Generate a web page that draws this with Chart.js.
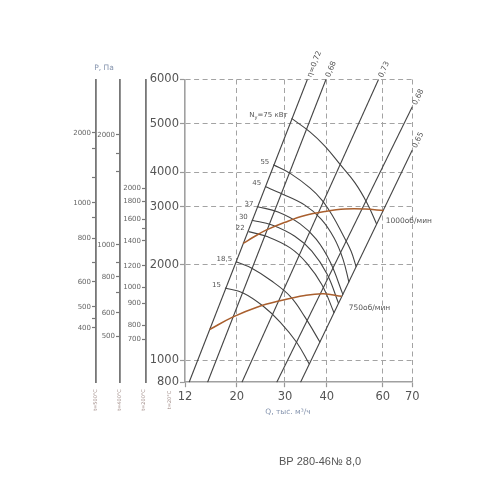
<!DOCTYPE html>
<html>
<head>
<meta charset="utf-8">
<script src="https://cdn.jsdelivr.net/npm/chart.js@4"></script>
<style>
  html, body { margin: 0; background: #fff; }
  canvas { display: block; }
</style>
</head>
<body>
<canvas id="chart" width="500" height="500"></canvas>
<script>
// main axes (Q, thousand m3/h and P, Pa at t=20°C)
const qTicks = [12, 20, 30, 40, 60, 70];
const pTicks = [800, 1000, 2000, 3000, 4000, 5000, 6000];

// pressure scales for hot gas (first and last value = ends of the scale)
const p500Marks = [224, 400, 450, 500, 600, 700, 800, 900, 1000, 1200, 1600, 2000, 3390];
const p500Labels = [400, 500, 600, 800, 1000, 2000];
const p400Marks = [348, 500, 600, 700, 800, 900, 1000, 1600, 1800, 2000, 2840];
const p400Labels = [500, 600, 800, 1000, 2000];
const p200Marks = [460, 700, 800, 900, 1000, 1200, 1400, 1500, 1600, 1800, 2000, 4500];
const p200Labels = [700, 800, 900, 1000, 1200, 1400, 1600, 1800, 2000];

// efficiency rays [Q, P]
const eta072 = [[12.5, 800], [35.0, 6000]];
const eta068 = [[15.0, 800], [39.8, 6000]];
const eta073 = [[20.9, 800], [58.2, 6000]];
const eta068b = [[28.0, 800], [70, 5360]];
const eta065 = [[33.4, 800], [70, 4430]];
const etaLabels = ['η=0,72', '0,68', '0,73', '0,68', '0,65'];

// motor power curves [Q, P]
const n15 = [[17.8, 1690], [21.1, 1630], [25.0, 1480], [28.8, 1320], [32.5, 1140], [35.5, 960]];
const n18 = [[19.9, 2040], [22.7, 1950], [26.5, 1790], [31.1, 1590], [34.4, 1370], [38.2, 1140]];
const n22 = [[22.1, 2520], [26.0, 2430], [31.1, 2250], [34.9, 2020], [38.7, 1730], [42.2, 1410]];
const n30 = [[22.7, 2730], [26.9, 2640], [32.1, 2440], [36.1, 2200], [40.1, 1870], [43.6, 1510]];
const n37 = [[23.8, 3000], [28.3, 2890], [33.3, 2660], [37.2, 2390], [41.0, 2040], [45.0, 1610]];
const n45 = [[25.4, 3550], [28.8, 3360], [34.4, 3040], [38.5, 2750], [42.2, 2410], [45.0, 2080], [47.0, 1760]];
const n55 = [[27.2, 4140], [31.1, 3960], [35.7, 3500], [38.7, 3170], [41.6, 2830], [45.0, 2460], [47.7, 2200], [49.5, 1970]];
const n75 = [[31.4, 5110], [35.7, 4810], [39.5, 4510], [44.0, 4150], [49.1, 3660], [53.6, 3090], [57.4, 2660]];
const powerLabels = ['15', '18,5', '22', '30', '37', '45', '55', 'Nу=75 кВт'];

// fan curves at 1000 and 750 rpm [Q, P]
const n1000 = [[21.1, 2320], [23.3, 2440], [25.7, 2550], [30, 2690], [34.4, 2820], [39.5, 2900], [45.7, 2950], [52.8, 2950], [60.3, 2920]];
const n750 = [[15.3, 1250], [19.3, 1370], [23.7, 1470], [28.8, 1540], [34.4, 1600], [39.1, 1620], [44.6, 1590]];
const rpmLabels = ['1000об/мин', '750об/мин'];

const tempLabels = ['t=500°C', 't=400°C', 't=200°C', 't=20°C'];

// where each mark sits along its axis (share of the axis length), the nomogram is not evenly spaced
const qAt = [0, 0.2275, 0.4399, 0.6234, 0.8698, 1];
const pAt = [0, 0.0723, 0.3882, 0.5798, 0.6938, 0.8540, 1];
const p500At = [0, 0.1800, 0.2088, 0.2494, 0.3320, 0.3948, 0.4754, 0.5425, 0.5930, 0.6746, 0.7737, 0.8242, 1];
const p400At = [0, 0.1526, 0.2296, 0.2947, 0.3485, 0.3938, 0.4542, 0.6954, 0.7562, 0.8167, 1];
const p200At = [0, 0.1417, 0.1867, 0.2607, 0.3135, 0.3839, 0.4675, 0.5094, 0.5382, 0.5986, 0.6406, 1];

const scaleMarks = {
  x: { values: qTicks, at: qAt, ticks: qTicks },
  y: { values: pTicks, at: pAt, ticks: pTicks },
  yA: { values: p500Marks, at: p500At, ticks: p500Marks.slice(1, -1) },
  yB: { values: p400Marks, at: p400At, ticks: p400Marks.slice(1, -1) },
  yC: { values: p200Marks, at: p200At, ticks: p200Marks.slice(1, -1) }
};

// log scale stretched piece by piece between the printed marks
class NomoScale extends Chart.Scale {
  static id = 'nomo';
  static defaults = {};

  determineDataLimits() {
    const v = scaleMarks[this.id].values;
    this.min = v[0];
    this.max = v[v.length - 1];
  }

  buildTicks() {
    return scaleMarks[this.id].ticks.map(value => ({ value }));
  }

  getPixelForValue(value) {
    const { values: v, at: f } = scaleMarks[this.id];
    let i = 1;
    while (i < v.length - 1 && value > v[i]) i++;
    const t = Math.log(value / v[i - 1]) / Math.log(v[i] / v[i - 1]);
    return this.getPixelForDecimal(f[i - 1] + t * (f[i] - f[i - 1]));
  }

  getValueForPixel(pixel) {
    const { values: v, at: f } = scaleMarks[this.id];
    const d = this.getDecimalForPixel(pixel);
    let i = 1;
    while (i < f.length - 1 && d > f[i]) i++;
    const t = (d - f[i - 1]) / (f[i] - f[i - 1]);
    return v[i - 1] * Math.pow(v[i] / v[i - 1], t);
  }
}
Chart.register(NomoScale);

const FONT = "'DejaVu Sans', sans-serif";
const asXY = pts => pts.map(([q, p]) => ({ x: q, y: p }));

const etaCurves = [eta072, eta068, eta073, eta068b, eta065];
const powerCurves = [n15, n18, n22, n30, n37, n45, n55, n75];
const rpmCurves = [n1000, n750];

const datasets = [
  ...rpmCurves.map(c => ({ data: asXY(c), borderColor: '#a95f2e', borderWidth: 1.5, tension: 0.4 })),
  ...powerCurves.map(c => ({ data: asXY(c), borderColor: '#444', borderWidth: 1.1, tension: 0.4 })),
  ...etaCurves.map(c => ({ data: asXY(c), borderColor: '#444', borderWidth: 1.1 }))
];

const mainGrid = {
  color: c => (c.tick && (c.tick.value === 12 || c.tick.value === 800)) ? 'rgba(0,0,0,0)' : '#a3a3a3',
  lineWidth: 1,
  tickLength: 5,
  tickColor: '#999',
  tickWidth: 1.2
};
const mainBorder = { color: '#a0a0a0', width: 1.6, dash: [5, 3.5] };

function auxAxis(weight, width, labels) {
  return {
    type: 'nomo',
    axis: 'y',
    position: 'left',
    weight: weight,
    grid: { drawOnChartArea: false, tickLength: 4, tickColor: '#777', tickWidth: 1.2 },
    border: { color: '#777', width: 1.8 },
    ticks: {
      font: { family: FONT, size: 7 },
      color: '#666',
      padding: 1,
      autoSkip: false,
      callback: v => labels.includes(v) ? String(v) : ''
    },
    afterFit: s => { s.width = width; }
  };
}

const notes = {
  id: 'notes',
  afterDatasetsDraw(chart) {
    const { ctx, scales } = chart;
    const at = ([q, p]) => [scales.x.getPixelForValue(q), scales.y.getPixelForValue(p)];
    ctx.save();
    ctx.fillStyle = '#555';
    ctx.textBaseline = 'middle';

    // efficiency labels continue the rays
    ctx.font = `7.5px ${FONT}`;
    ctx.textAlign = 'left';
    etaCurves.forEach((c, i) => {
      const [x1, y1] = at(c[0]);
      const [x2, y2] = at(c[c.length - 1]);
      ctx.save();
      ctx.translate(x2, y2);
      ctx.rotate(Math.atan2(y2 - y1, x2 - x1));
      ctx.fillText(etaLabels[i], 3, 1);
      ctx.restore();
    });

    // power labels at the start of each curve
    ctx.font = `7px ${FONT}`;
    ctx.textAlign = 'right';
    powerCurves.forEach((c, i) => {
      const [sx, sy] = at(c[0]);
      const label = powerLabels[i];
      if (label.startsWith('Nу')) {
        const tail = label.slice(2);
        let right = sx - 4;
        ctx.fillText(tail, right, sy - 3);
        right -= ctx.measureText(tail).width;
        ctx.font = `5px ${FONT}`;
        ctx.fillText('у', right, sy - 1);
        right -= ctx.measureText('у').width;
        ctx.font = `7px ${FONT}`;
        ctx.fillText('N', right, sy - 3);
      } else {
        ctx.fillText(label, sx - 4, sy - 3);
      }
    });

    // rpm labels
    ctx.textAlign = 'left';
    ctx.font = `7.5px ${FONT}`;
    const [ax, ay] = at(n1000[n1000.length - 1]);
    ctx.fillText(rpmLabels[0], ax + 2, ay + 10);
    const [bx, by] = at(n750[n750.length - 1]);
    ctx.fillText(rpmLabels[1], bx + 7, by + 12);

    // axis captions
    ctx.fillStyle = '#8493ad';
    ctx.textAlign = 'center';
    ctx.font = `7.5px ${FONT}`;
    ctx.fillText('P, Па', scales.yA.right + 8, 68.5);
    ctx.fillText('Q, тыс. м³/ч', 288, 412);

    // temperature of each pressure scale
    ctx.fillStyle = '#9b8580';
    ctx.font = `5px ${FONT}`;
    const tx = [scales.yA.right, scales.yB.right, scales.yC.right - 2, scales.y.left + 24];
    tempLabels.forEach((t, i) => {
      ctx.save();
      ctx.translate(tx[i], 400);
      ctx.rotate(-Math.PI / 2);
      ctx.fillText(t, 0, 0);
      ctx.restore();
    });

    ctx.fillStyle = '#555';
    ctx.font = "11px 'Liberation Sans', sans-serif";
    ctx.fillText('ВР 280-46№ 8,0', 320, 462);
    ctx.restore();
  }
};

new Chart(document.getElementById('chart'), {
  type: 'line',
  data: { datasets },
  options: {
    responsive: false,
    animation: false,
    devicePixelRatio: 1,
    events: [],
    layout: { padding: { left: 56, top: 79.5, right: 87.7, bottom: 77.8 } },
    elements: { point: { radius: 0 } },
    plugins: { legend: { display: false }, tooltip: { enabled: false } },
    scales: {
      x: {
        type: 'nomo',
        position: 'bottom',
        grid: mainGrid,
        border: mainBorder,
        ticks: { font: { family: FONT, size: 11.5 }, color: '#555', padding: 3, autoSkip: false, maxRotation: 0 },
        afterFit: s => { s.height = 40; }
      },
      y: {
        type: 'nomo',
        position: 'left',
        weight: 0,
        grid: mainGrid,
        border: mainBorder,
        ticks: { font: { family: FONT, size: 11.5 }, color: '#555', padding: 1, autoSkip: false },
        afterFit: s => { s.width = 39; }
      },
      yC: auxAxis(1, 26, p200Labels),
      yB: auxAxis(2, 24, p400Labels),
      yA: auxAxis(3, 40, p500Labels)
    }
  },
  plugins: [notes]
});
</script>
</body>
</html>
